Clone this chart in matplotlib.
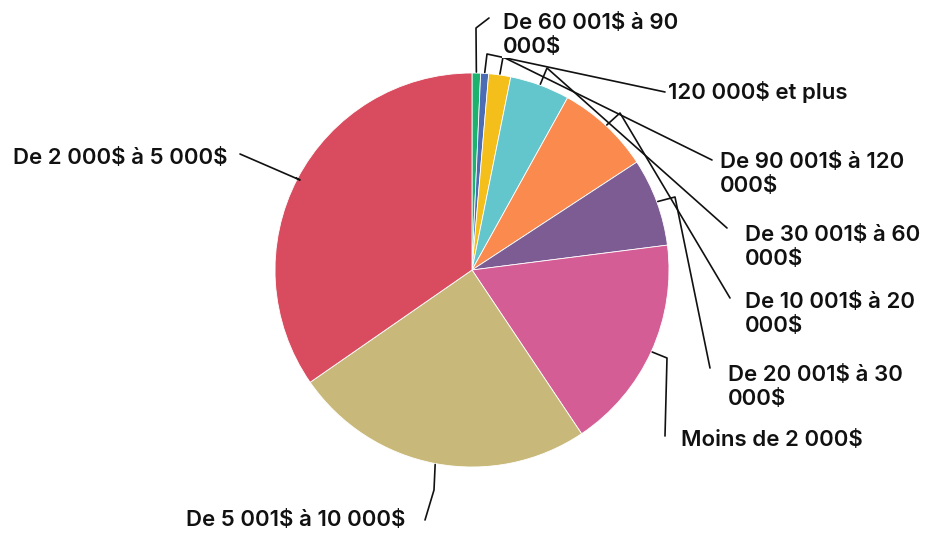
import matplotlib
matplotlib.use("Agg")
import matplotlib.pyplot as plt
import numpy as np

labels = ["De 60 001$ à 90\n000$", "120 000$ et plus", "De 90 001$ à 120\n000$",
          "De 30 001$ à 60\n000$", "De 10 001$ à 20\n000$", "De 20 001$ à 30\n000$",
          "Moins de 2 000$", "De 5 001$ à 10 000$", "De 2 000$ à 5 000$"]
values = [0.7, 0.65, 1.8, 4.9, 7.7, 7.2, 17.6, 24.7, 34.6]
colors = ["#1db36e", "#4a6db3", "#f4bf1a", "#63c6cc", "#fa8a4e", "#7c5c93",
          "#d45d96", "#c8b97a", "#d94c5f"]

# label layout (pixel positions in the 925x534 canvas)
CX, CY, R = 472, 270, 197
label_xy = [(503, 35), (668, 92), (720, 174), (745, 247), (745, 314), (728, 387),
            (681, 440), (405, 520), (228, 158)]
label_ha = ["left", "left", "left", "left", "left", "left", "left", "right", "right"]
elbow_px = [(476, 28), (487, 54), (503, 57), (547, 68), (620, 113), (675, 197),
            (667, 358), (434, 490), (300, 180)]
end_px = [(489, 18), (665, 92), (712, 160), (727, 228), (730, 298), (710, 368),
          (665, 436), (425, 520), (240, 154)]

def px(p):
    return ((p[0] - CX) / R, (CY - p[1]) / R)

fig = plt.figure(figsize=(9.25, 5.34), dpi=100)
ax = fig.add_axes([0, 0, 1, 1])
wedges, _ = ax.pie(values, colors=colors, startangle=90, counterclock=False,
                   radius=1.0, wedgeprops=dict(edgecolor="white", linewidth=0.6))
ax.set_xlim(-CX / R, (925 - CX) / R)
ax.set_ylim((CY - 534) / R, CY / R)
ax.set_aspect("equal", adjustable="datalim")
ax.axis("off")

for w, lab, lxy, ha, el, en in zip(wedges, labels, label_xy, label_ha, elbow_px, end_px):
    ang = np.deg2rad((w.theta1 + w.theta2) / 2)
    x0, y0 = np.cos(ang), np.sin(ang)
    ex, ey = px(el)
    nx, ny = px(en)
    ax.plot([x0 * 1.005, ex, nx], [y0 * 1.005, ey, ny], color="#111111", lw=1.2,
            solid_capstyle="round", zorder=1)
    tx, ty = px(lxy)
    ax.text(tx, ty, lab, ha=ha, va="center", fontsize=16, family=["Inter", "DejaVu Sans"],
            fontweight="semibold", color="#111111", linespacing=1.3, parse_math=False,
            bbox=dict(facecolor="white", edgecolor="none", pad=0.5), zorder=3)

fig.savefig("out.png", dpi=100, facecolor="white")
